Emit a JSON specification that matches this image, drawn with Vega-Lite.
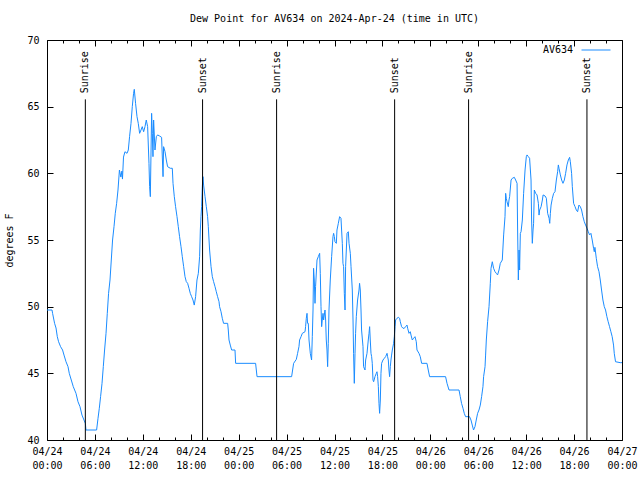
{
  "$schema": "https://vega.github.io/schema/vega-lite/v6.json",
  "width": 575,
  "height": 400,
  "autosize": {"type": "none"},
  "padding": {"left": 47, "top": 40, "right": 18, "bottom": 40},
  "background": "white",
  "title": {"text": "Dew Point for AV634 on 2024-Apr-24 (time in UTC)", "font": "DejaVu Sans Mono", "fontSize": 10, "fontWeight": "normal", "color": "black", "offset": 11},
  "config": {
    "view": {"stroke": "black", "strokeWidth": 1},
    "axis": {"domain": false, "grid": false, "labelFont": "DejaVu Sans Mono", "labelFontSize": 10, "labelColor": "black", "tickColor": "black", "tickWidth": 1, "titleFont": "DejaVu Sans Mono", "titleFontSize": 10, "titleFontWeight": "normal", "titleColor": "black", "labelOverlap": false, "labelFlush": false}
  },
  "resolve": {"axis": {"x": "independent", "y": "independent"}},
  "layer": [
    {
      "data": {"values": [
        {"h":0,"v":49.75},{"h":0.63,"v":49.75},{"h":0.70,"v":49.50},{"h":0.95,"v":48.75},{"h":1.13,"v":48.40},{"h":1.29,"v":47.75},{"h":1.45,"v":47.37},{"h":1.70,"v":47.00},{"h":1.95,"v":46.75},{"h":2.13,"v":46.37},{"h":2.38,"v":45.87},{"h":2.63,"v":45.50},{"h":2.79,"v":45.00},{"h":3.04,"v":44.50},{"h":3.29,"v":44.00},{"h":3.46,"v":43.75},{"h":3.63,"v":43.50},{"h":3.88,"v":42.87},{"h":4.13,"v":42.50},{"h":4.38,"v":41.87},{"h":4.63,"v":41.50},{"h":4.80,"v":41.25},{"h":4.88,"v":40.75},{"h":6.21,"v":40.75},{"h":6.39,"v":41.63},{"h":6.55,"v":42.38},{"h":6.71,"v":43.25},{"h":6.89,"v":44.25},{"h":7.05,"v":45.50},{"h":7.21,"v":46.75},{"h":7.39,"v":48.00},{"h":7.55,"v":49.50},{"h":7.71,"v":51.00},{"h":7.89,"v":52.00},{"h":8.05,"v":53.50},{"h":8.21,"v":55.00},{"h":8.39,"v":56.00},{"h":8.55,"v":57.00},{"h":8.72,"v":57.75},{"h":8.89,"v":58.75},{"h":9.07,"v":60.25},{"h":9.25,"v":59.72},{"h":9.38,"v":60.17},{"h":9.45,"v":59.57},{"h":9.58,"v":61.22},{"h":9.76,"v":61.62},{"h":10.02,"v":61.50},{"h":10.18,"v":61.75},{"h":10.34,"v":62.75},{"h":10.52,"v":63.75},{"h":10.68,"v":65.00},{"h":10.84,"v":66.00},{"h":10.93,"v":66.30},{"h":11.09,"v":65.25},{"h":11.27,"v":64.25},{"h":11.43,"v":63.75},{"h":11.60,"v":63.00},{"h":11.77,"v":63.25},{"h":11.93,"v":63.50},{"h":12.10,"v":63.12},{"h":12.27,"v":63.50},{"h":12.43,"v":64.00},{"h":12.60,"v":63.50},{"h":12.77,"v":60.75},{"h":12.85,"v":59.00},{"h":12.94,"v":58.25},{"h":13.10,"v":64.50},{"h":13.19,"v":63.00},{"h":13.27,"v":61.25},{"h":13.35,"v":64.00},{"h":13.52,"v":61.75},{"h":13.69,"v":62.75},{"h":13.85,"v":62.88},{"h":14.10,"v":62.80},{"h":14.35,"v":62.70},{"h":14.53,"v":59.75},{"h":14.60,"v":62.00},{"h":14.78,"v":61.62},{"h":14.94,"v":61.00},{"h":15.10,"v":60.50},{"h":15.44,"v":60.38},{"h":15.69,"v":60.38},{"h":15.78,"v":59.25},{"h":15.94,"v":58.25},{"h":16.10,"v":57.50},{"h":16.28,"v":56.75},{"h":16.44,"v":56.00},{"h":16.60,"v":55.25},{"h":16.78,"v":54.50},{"h":16.94,"v":53.75},{"h":17.11,"v":53.00},{"h":17.28,"v":52.25},{"h":17.44,"v":51.88},{"h":17.61,"v":51.75},{"h":17.78,"v":51.38},{"h":17.94,"v":51.00},{"h":18.11,"v":50.75},{"h":18.28,"v":50.50},{"h":18.44,"v":50.12},{"h":18.61,"v":50.75},{"h":18.78,"v":52.00},{"h":18.95,"v":52.50},{"h":19.11,"v":53.75},{"h":19.20,"v":55.75},{"h":19.28,"v":56.75},{"h":19.36,"v":57.50},{"h":19.45,"v":59.00},{"h":19.53,"v":59.75},{"h":19.61,"v":59.12},{"h":19.79,"v":58.25},{"h":19.95,"v":57.50},{"h":20.11,"v":56.75},{"h":20.20,"v":56.00},{"h":20.29,"v":55.00},{"h":20.36,"v":54.25},{"h":20.54,"v":53.00},{"h":20.70,"v":52.25},{"h":20.86,"v":51.88},{"h":21.04,"v":51.50},{"h":21.20,"v":51.12},{"h":21.36,"v":50.75},{"h":21.54,"v":50.37},{"h":21.61,"v":50.00},{"h":21.79,"v":49.62},{"h":21.95,"v":49.13},{"h":22.11,"v":48.75},{"h":22.62,"v":48.75},{"h":22.70,"v":48.25},{"h":22.79,"v":47.50},{"h":22.95,"v":47.12},{"h":23.12,"v":46.75},{"h":23.54,"v":46.75},{"h":23.62,"v":45.75},{"h":26.12,"v":45.75},{"h":26.30,"v":44.75},{"h":30.63,"v":44.75},{"h":30.88,"v":45.75},
        {"h":31.22,"v":46.05},{"h":31.38,"v":46.50},{"h":31.55,"v":47.00},{"h":31.63,"v":47.50},{"h":31.81,"v":47.75},{"h":31.97,"v":48.00},{"h":32.31,"v":48.12},{"h":32.38,"v":48.50},{"h":32.47,"v":49.13},{"h":32.56,"v":49.50},{"h":32.63,"v":48.75},{"h":32.72,"v":48.75},{"h":32.81,"v":47.50},{"h":32.97,"v":46.50},{"h":33.13,"v":46.00},{"h":33.22,"v":47.75},{"h":33.31,"v":49.75},{"h":33.38,"v":52.88},{"h":33.47,"v":52.00},{"h":33.56,"v":50.25},{"h":33.63,"v":51.50},{"h":33.81,"v":53.50},{"h":33.97,"v":53.75},{"h":34.14,"v":54.00},{"h":34.22,"v":52.50},{"h":34.31,"v":50.00},{"h":34.39,"v":48.50},{"h":34.47,"v":49.00},{"h":34.56,"v":49.50},{"h":34.64,"v":49.00},{"h":34.81,"v":49.75},{"h":34.89,"v":49.00},{"h":34.97,"v":47.50},{"h":35.06,"v":46.75},{"h":35.14,"v":45.50},{"h":35.22,"v":47.25},{"h":35.31,"v":49.75},{"h":35.47,"v":52.00},{"h":35.64,"v":53.75},{"h":35.81,"v":55.25},{"h":35.89,"v":55.50},{"h":35.98,"v":55.25},{"h":36.06,"v":54.87},{"h":36.23,"v":54.75},{"h":36.31,"v":55.75},{"h":36.48,"v":56.25},{"h":36.64,"v":56.75},{"h":36.81,"v":56.63},{"h":36.89,"v":55.75},{"h":36.98,"v":54.75},{"h":37.06,"v":53.25},{"h":37.14,"v":53.00},{"h":37.23,"v":51.00},{"h":37.32,"v":49.75},{"h":37.39,"v":53.00},{"h":37.57,"v":55.50},{"h":37.73,"v":55.62},{"h":37.82,"v":54.75},{"h":37.98,"v":54.00},{"h":38.07,"v":53.00},{"h":38.23,"v":51.25},{"h":38.32,"v":49.00},{"h":38.39,"v":46.50},{"h":38.48,"v":44.25},{"h":38.57,"v":46.50},{"h":38.64,"v":48.00},{"h":38.73,"v":49.25},{"h":38.89,"v":50.50},{"h":39.07,"v":51.25},{"h":39.14,"v":51.75},{"h":39.23,"v":51.25},{"h":39.32,"v":49.75},{"h":39.39,"v":48.25},{"h":39.57,"v":47.00},{"h":39.64,"v":45.50},{"h":39.82,"v":45.25},{"h":39.90,"v":46.00},{"h":40.07,"v":46.50},{"h":40.23,"v":47.50},{"h":40.32,"v":48.00},{"h":40.40,"v":48.50},{"h":40.48,"v":47.50},{"h":40.57,"v":46.50},{"h":40.65,"v":46.25},{"h":40.73,"v":45.75},{"h":40.82,"v":44.50},{"h":40.90,"v":44.37},{"h":41.07,"v":44.75},{"h":41.23,"v":45.00},{"h":41.32,"v":45.12},{"h":41.40,"v":44.75},{"h":41.49,"v":44.00},{"h":41.57,"v":42.75},{"h":41.65,"v":42.00},{"h":41.74,"v":43.00},{"h":41.82,"v":45.00},{"h":41.90,"v":45.75},{"h":42.07,"v":46.00},{"h":42.24,"v":46.13},{"h":42.40,"v":46.25},{"h":42.58,"v":46.50},{"h":42.65,"v":46.25},{"h":42.74,"v":46.00},{"h":42.82,"v":45.25},{"h":42.90,"v":44.75},{"h":42.99,"v":45.50},{"h":43.07,"v":46.00},{"h":43.15,"v":46.37},{"h":43.24,"v":46.75},{"h":43.40,"v":47.25},{"h":43.49,"v":47.75},{"h":43.58,"v":48.50},{"h":43.65,"v":49.00},{"h":43.83,"v":49.13},{"h":43.99,"v":49.20},{"h":44.15,"v":49.13},{"h":44.24,"v":48.87},{"h":44.40,"v":48.50},{"h":44.58,"v":48.38},{"h":44.74,"v":48.38},{"h":44.90,"v":48.50},{"h":45.08,"v":48.62},{"h":45.16,"v":48.38},{"h":45.33,"v":48.00},{"h":45.49,"v":48.12},{"h":45.58,"v":47.87},{"h":45.74,"v":47.50},{"h":45.91,"v":47.63},{"h":46.08,"v":47.75},{"h":46.24,"v":47.37},{"h":46.33,"v":46.75},{"h":46.58,"v":46.50},{"h":46.74,"v":46.25},{"h":46.91,"v":45.75},{"h":47.58,"v":45.75},{"h":47.74,"v":45.25},{"h":47.91,"v":44.75},{"h":49.91,"v":44.75},{"h":50.09,"v":44.25},{"h":50.34,"v":43.75},{"h":51.59,"v":43.75},{"h":51.75,"v":43.25},{"h":51.91,"v":42.75},{"h":52.09,"v":42.38},{"h":52.25,"v":42.00},{"h":52.41,"v":41.75},{"h":52.91,"v":41.75},{"h":53.09,"v":41.50},{"h":53.25,"v":41.12},{"h":53.41,"v":40.75},{"h":53.59,"v":41.00},{"h":53.75,"v":41.50},{"h":53.92,"v":42.00},{"h":54.09,"v":42.25},{"h":54.26,"v":42.62},{"h":54.42,"v":43.25},{"h":54.59,"v":44.00},{"h":54.67,"v":44.75},{"h":54.85,"v":45.50},{"h":54.92,"v":46.37},{"h":55.01,"v":47.50},{"h":55.17,"v":48.87},{"h":55.35,"v":50.00},{"h":55.51,"v":51.75},{"h":55.60,"v":52.88},{"h":55.76,"v":53.37},{"h":55.92,"v":52.88},{"h":56.10,"v":52.62},{"h":56.26,"v":52.50},{"h":56.42,"v":52.38},{"h":56.60,"v":52.75},{"h":56.76,"v":53.25},{"h":57.01,"v":53.50},{"h":57.18,"v":55.38},{"h":57.35,"v":56.75},{"h":57.43,"v":58.50},{"h":57.51,"v":58.13},{"h":57.60,"v":57.87},{"h":57.76,"v":57.50},{"h":57.85,"v":58.00},{"h":57.93,"v":58.25},{"h":58.11,"v":59.50},{"h":58.27,"v":59.63},{"h":58.52,"v":59.70},{"h":58.68,"v":59.50},{"h":58.86,"v":59.25},{"h":58.93,"v":55.75},{"h":59.02,"v":52.00},{"h":59.11,"v":54.25},{"h":59.18,"v":52.75},{"h":59.27,"v":55.50},{"h":59.36,"v":55.62},{"h":59.52,"v":56.50},{"h":59.68,"v":58.50},{"h":59.86,"v":60.25},{"h":60.02,"v":61.25},{"h":60.11,"v":61.38},{"h":60.27,"v":61.25},{"h":60.43,"v":61.13},{"h":60.61,"v":59.50},{"h":60.68,"v":56.50},{"h":60.77,"v":54.75},{"h":60.86,"v":55.75},{"h":60.93,"v":56.25},{"h":61.02,"v":58.75},{"h":61.19,"v":58.50},{"h":61.36,"v":58.38},{"h":61.53,"v":57.75},{"h":61.61,"v":56.87},{"h":61.69,"v":57.25},{"h":61.87,"v":57.50},{"h":62.03,"v":58.00},{"h":62.12,"v":58.38},{"h":62.37,"v":58.30},{"h":62.53,"v":58.13},{"h":62.69,"v":57.00},{"h":62.87,"v":56.63},{"h":62.95,"v":56.25},{"h":63.03,"v":57.00},{"h":63.12,"v":57.62},{"h":63.28,"v":58.13},{"h":63.44,"v":58.50},{"h":63.61,"v":58.62},{"h":63.78,"v":59.50},{"h":63.94,"v":60.12},{"h":64.03,"v":60.63},{"h":64.11,"v":60.38},{"h":64.28,"v":59.88},{"h":64.44,"v":59.50},{"h":64.61,"v":59.25},{"h":64.78,"v":59.50},{"h":64.94,"v":60.00},{"h":65.11,"v":60.63},{"h":65.28,"v":61.00},{"h":65.44,"v":61.20},{"h":65.53,"v":60.87},{"h":65.69,"v":60.00},{"h":65.78,"v":59.00},{"h":65.94,"v":57.75},{"h":66.12,"v":57.50},{"h":66.28,"v":57.25},{"h":66.44,"v":57.12},{"h":66.61,"v":57.62},{"h":66.78,"v":57.50},{"h":66.94,"v":57.25},{"h":67.11,"v":56.75},{"h":67.28,"v":56.37},{"h":67.44,"v":56.12},{"h":67.62,"v":55.88},{"h":67.78,"v":55.62},{"h":67.94,"v":55.38},{"h":68.11,"v":55.50},{"h":68.27,"v":55.00},{"h":68.44,"v":54.38},{"h":68.53,"v":54.12},{"h":68.61,"v":54.45},{"h":68.78,"v":53.63},{"h":68.94,"v":53.00},{"h":69.12,"v":52.62},{"h":69.28,"v":52.00},{"h":69.44,"v":51.25},{"h":69.61,"v":50.50},{"h":69.78,"v":50.00},{"h":69.94,"v":49.75},{"h":70.11,"v":49.25},{"h":70.27,"v":48.87},{"h":70.44,"v":48.50},{"h":70.61,"v":48.12},{"h":70.77,"v":47.75},{"h":70.94,"v":47.12},{"h":71.03,"v":46.50},{"h":71.19,"v":45.87},{"h":71.78,"v":45.80},{"h":72,"v":45.80}
      ]},
      "mark": {"type": "line", "strokeWidth": 1, "interpolate": "linear"},
      "encoding": {
        "x": {"field": "h", "type": "quantitative", "scale": {"domain": [0, 72], "nice": false, "zero": false},
          "axis": {"orient": "bottom", "title": null, "values": [0,2,4,6,8,10,12,14,16,18,20,22,24,26,28,30,32,34,36,38,40,42,44,46,48,50,52,54,56,58,60,62,64,66,68,70,72],
            "labelExpr": "datum.value % 6 === 0 ? ['04/' + (24 + floor(datum.value / 24)), format(datum.value % 24, '02d') + ':00'] : ''",
            "tickSize": {"condition": {"test": "datum.value % 6 === 0", "value": -6}, "value": -3},
            "labelPadding": 12, "labelAngle": 0, "labelBaseline": "top", "labelLineHeight": 14}},
        "y": {"field": "v", "type": "quantitative", "scale": {"domain": [40, 70], "nice": false, "zero": false},
          "axis": {"orient": "left", "values": [40,45,50,55,60,65,70], "tickSize": -6, "labelPadding": 14, "title": "degrees F", "titlePadding": 12}},
        "color": {"datum": "AV634", "scale": {"range": ["#1a8cff"]},
          "legend": {"orient": "none", "legendX": 534, "legendY": -5, "title": null, "symbolType": "stroke", "symbolSize": 841, "symbolStrokeWidth": 1, "labelAlign": "right", "labelOffset": -38, "labelFont": "DejaVu Sans Mono", "labelFontSize": 10, "labelColor": "black", "padding": 0}}
      }
    },
    {
      "data": {"values": [{"h":4.80,"e":"Sunrise"},{"h":19.48,"e":"Sunset"},{"h":28.75,"e":"Sunrise"},{"h":43.53,"e":"Sunset"},{"h":52.79,"e":"Sunrise"},{"h":67.61,"e":"Sunset"}]},
      "mark": {"type": "rule", "color": "black", "strokeWidth": 1},
      "encoding": {
        "x": {"field": "h", "type": "quantitative",
          "axis": {"orient": "top", "title": null, "labels": false, "values": [0,2,4,6,8,10,12,14,16,18,20,22,24,26,28,30,32,34,36,38,40,42,44,46,48,50,52,54,56,58,60,62,64,66,68,70,72],
            "tickSize": {"condition": {"test": "datum.value % 6 === 0", "value": -6}, "value": -3}}},
        "y": {"datum": 65.55, "axis": {"orient": "right", "title": null, "labels": false, "values": [40,45,50,55,60,65,70], "tickSize": -6}},
        "y2": {"datum": 40}
      }
    },
    {
      "data": {"values": [{"h":4.80,"e":"Sunrise"},{"h":19.48,"e":"Sunset"},{"h":28.75,"e":"Sunrise"},{"h":43.53,"e":"Sunset"},{"h":52.79,"e":"Sunrise"},{"h":67.61,"e":"Sunset"}]},
      "mark": {"type": "text", "angle": 270, "align": "left", "baseline": "middle", "font": "DejaVu Sans Mono", "fontSize": 10, "color": "black"},
      "encoding": {
        "x": {"field": "h", "type": "quantitative", "axis": null},
        "y": {"datum": 66.0, "axis": null},
        "text": {"field": "e"}
      }
    }
  ]
}
